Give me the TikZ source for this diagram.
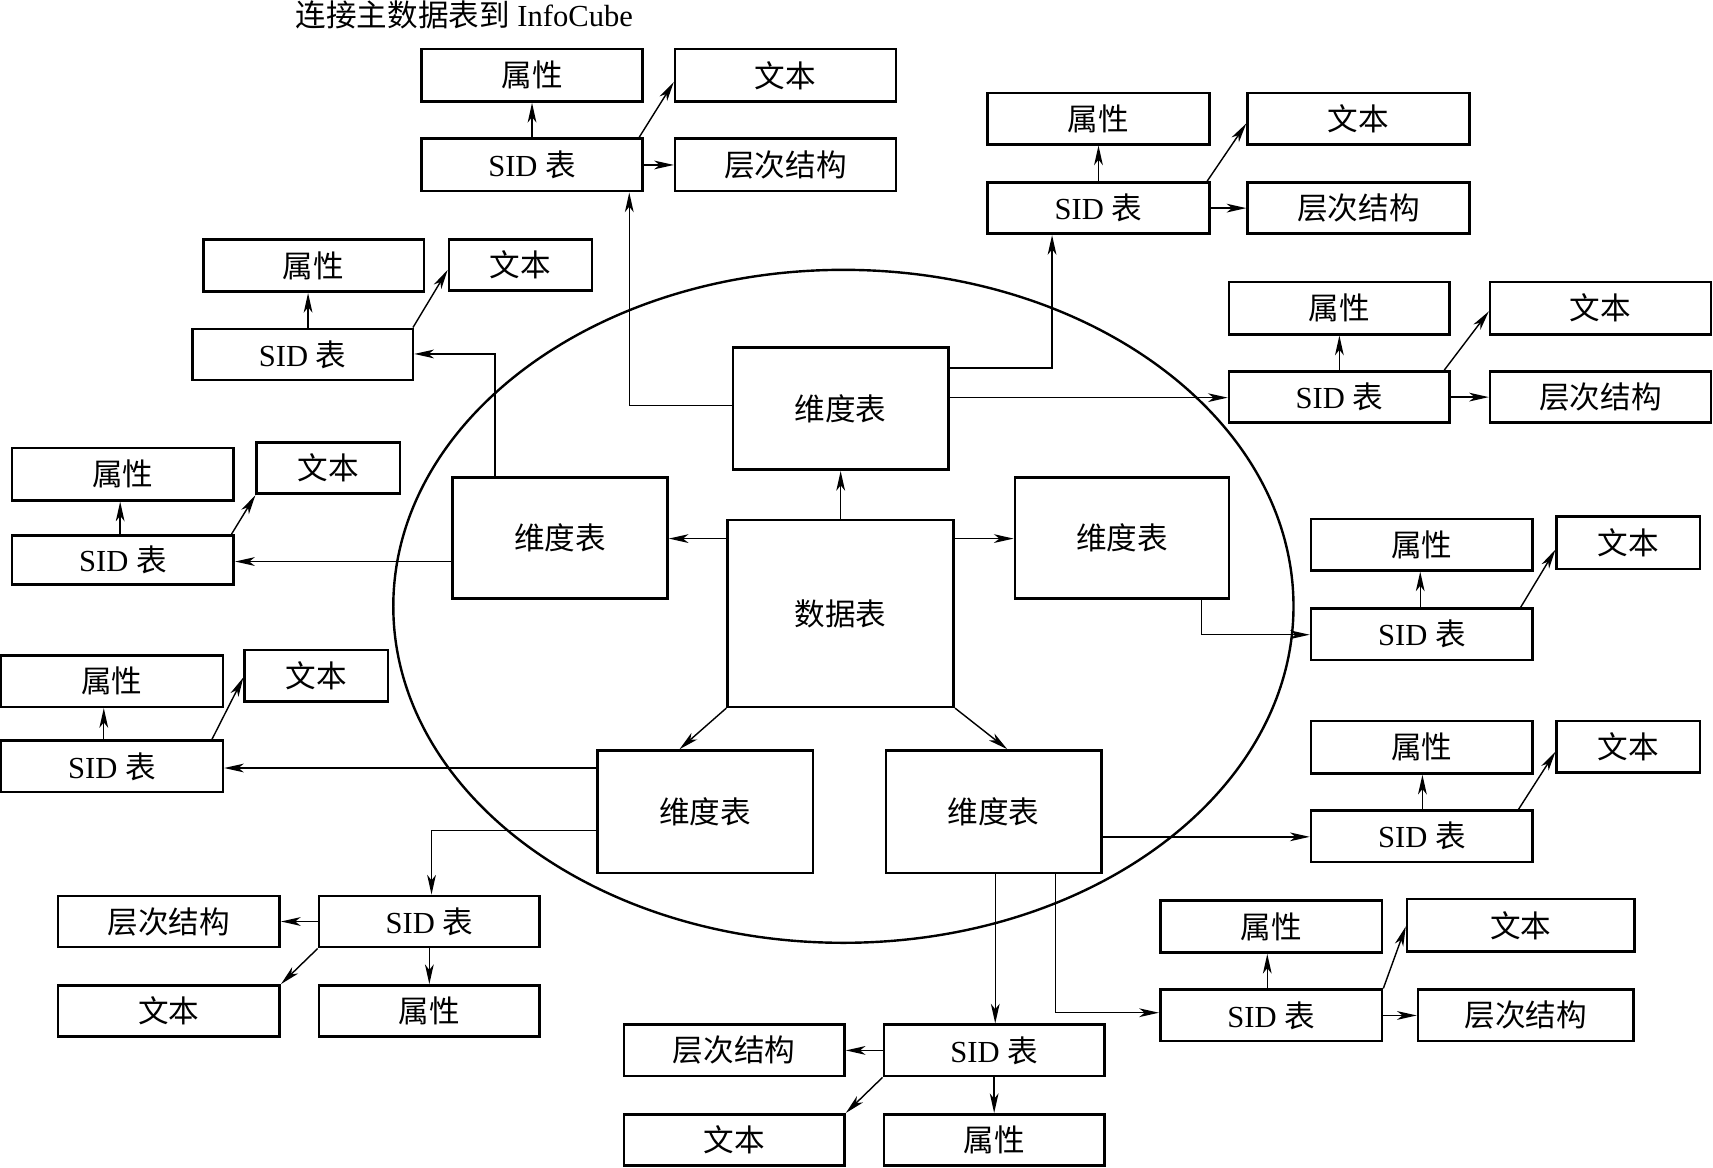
\documentclass[tikz,border=0pt]{standalone}
\usepackage{fontspec}
\setmainfont{Liberation Serif}
\newfontfamily\cjk{Noto Sans CJK SC}
\usetikzlibrary{arrows.meta}
\newcommand\zh[1]{{\cjk #1}}
\newcommand\mybox[6]{\node[box,minimum width={(#4-#2)*0.5pt},minimum height={(#5-#3)*0.5pt}] (#1) at ({(#2+#4)/2},{(#3+#5)/2}) {#6};}
\tikzset{
  box/.style={draw,line width=1.2pt,inner sep=0pt,rectangle,font=\fontsize{14}{16}\selectfont},
  conn/.style={line width=0.65pt,-{Stealth[length=9pt,width=4pt,inset=2.5pt]}},
}
\begin{document}
\begin{tikzpicture}[x=0.5pt,y=-0.5pt]
\useasboundingbox (0,0) rectangle (1568,1069);
\node[font=\fontsize{14}{16}\selectfont] (title) at (425,14) {\zh{连接主数据表到} InfoCube};
% ellipse
\draw[line width=1.1pt] (772,555) ellipse [x radius=206pt, y radius=154pt];
% center
\mybox{dsj}{666}{476}{873}{647}{\zh{数据表}}
\mybox{dtop}{671}{318}{868}{430}{\zh{维度表}}
\mybox{dl}{414}{437}{611}{548}{\zh{维度表}}
\mybox{dr}{929}{437}{1125}{548}{\zh{维度表}}
\mybox{dbl}{547}{687}{744}{799}{\zh{维度表}}
\mybox{dbr}{811}{687}{1008}{799}{\zh{维度表}}
% T1
\mybox{t1a}{386}{45}{588}{93}{\zh{属性}}
\mybox{t1t}{618}{45}{820}{93}{\zh{文本}}
\mybox{t1s}{386}{127}{588}{175}{SID \zh{表}}
\mybox{t1h}{618}{127}{820}{175}{\zh{层次结构}}
% T2
\mybox{t2a}{904}{85}{1107}{132}{\zh{属性}}
\mybox{t2t}{1142}{85}{1345}{132}{\zh{文本}}
\mybox{t2s}{904}{167}{1107}{214}{SID \zh{表}}
\mybox{t2h}{1142}{167}{1345}{214}{\zh{层次结构}}
% T3
\mybox{t3a}{1125}{258}{1327}{306}{\zh{属性}}
\mybox{t3t}{1364}{258}{1566}{306}{\zh{文本}}
\mybox{t3s}{1125}{340}{1327}{387}{SID \zh{表}}
\mybox{t3h}{1364}{340}{1566}{387}{\zh{层次结构}}
% L1
\mybox{l1a}{186}{219}{388}{267}{\zh{属性}}
\mybox{l1t}{411}{219}{542}{266}{\zh{文本}}
\mybox{l1s}{176}{301}{378}{348}{SID \zh{表}}
% L2
\mybox{l2a}{11}{410}{214}{458}{\zh{属性}}
\mybox{l2t}{235}{405}{366}{452}{\zh{文本}}
\mybox{l2s}{11}{490}{214}{535}{SID \zh{表}}
% L3
\mybox{l3a}{1}{600}{204}{647}{\zh{属性}}
\mybox{l3t}{224}{595}{355}{642}{\zh{文本}}
\mybox{l3s}{1}{678}{204}{725}{SID \zh{表}}
% R1
\mybox{r1a}{1200}{475}{1403}{522}{\zh{属性}}
\mybox{r1t}{1425}{473}{1556}{521}{\zh{文本}}
\mybox{r1s}{1200}{557}{1403}{604}{SID \zh{表}}
% R2
\mybox{r2a}{1200}{660}{1403}{708}{\zh{属性}}
\mybox{r2t}{1425}{660}{1556}{707}{\zh{文本}}
\mybox{r2s}{1200}{742}{1403}{789}{SID \zh{表}}
% B3
\mybox{b3a}{1062}{824}{1265}{872}{\zh{属性}}
\mybox{b3t}{1288}{823}{1496}{871}{\zh{文本}}
\mybox{b3s}{1062}{906}{1265}{953}{SID \zh{表}}
\mybox{b3h}{1298}{906}{1495}{953}{\zh{层次结构}}
% B1
\mybox{b1h}{53}{820}{256}{867}{\zh{层次结构}}
\mybox{b1s}{292}{820}{494}{867}{SID \zh{表}}
\mybox{b1t}{53}{902}{256}{949}{\zh{文本}}
\mybox{b1a}{292}{902}{494}{949}{\zh{属性}}
% B2
\mybox{b2h}{571}{938}{773}{985}{\zh{层次结构}}
\mybox{b2s}{809}{938}{1011}{985}{SID \zh{表}}
\mybox{b2t}{571}{1020}{773}{1067}{\zh{文本}}
\mybox{b2a}{809}{1020}{1011}{1067}{\zh{属性}}

% center connectors
\draw[conn] (dsj.north) -- (dtop.south);
\draw[conn] (dsj.west |- 0,493) -- (dl.east |- 0,493);
\draw[conn] (dsj.east |- 0,493) -- (dr.west |- 0,493);
\draw[conn] (dsj.south west) -- (dbl.north -| 622,0);
\draw[conn] (dsj.south east) -- (dbr.north -| 922,0);
% dimension to SID
\draw[conn] (dtop.west |- 0,371) -| (t1s.south -| 576,0);
\draw[conn] (dtop.east |- 0,337) -| (t2s.south -| 963,0);
\draw[conn] (dtop.east |- 0,364) -- (t3s.west |- 0,364);
\draw[conn] (dl.north -| 453,0) |- (l1s.east |- 0,324);
\draw[conn] (dl.west |- 0,514) -- (l2s.east |- 0,514);
\draw[conn] (dr.south -| 1100,0) |- (r1s.west |- 0,581);
\draw[conn] (dbl.west |- 0,703) -- (l3s.east |- 0,703);
\draw[conn] (dbl.west |- 0,760) -| (b1s.north -| 395,0);
\draw[conn] (dbr.south -| 911,0) -- (b2s.north -| 911,0);
\draw[conn] (dbr.south -| 966,0) |- (b3s.west |- 0,927);
\draw[conn] (dbr.east |- 0,766) -- (r2s.west |- 0,766);
% T clusters
\draw[conn] (t1s.north) -- (t1a.south);
\draw[conn] (t1s.east) -- (t1h.west);
\draw[conn] (t1s.north -| 585,0) -- (t1t.west |- 0,75);
\draw[conn] (t2s.north) -- (t2a.south);
\draw[conn] (t2s.east) -- (t2h.west);
\draw[conn] (t2s.north -| 1105,0) -- (t2t.west |- 0,113);
\draw[conn] (t3s.north) -- (t3a.south);
\draw[conn] (t3s.east) -- (t3h.west);
\draw[conn] (t3s.north -| 1322,0) -- (t3t.west |- 0,285);
% L clusters
\draw[conn] (l1s.north -| 282,0) -- (l1a.south -| 282,0);
\draw[conn] (l1s.north -| 378,0) -- (l1t.west |- 0,247);
\draw[conn] (l2s.north -| 110,0) -- (l2a.south -| 110,0);
\draw[conn] (l2s.north -| 212,0) -- (l2t.south west);
\draw[conn] (l3s.north -| 95,0) -- (l3a.south -| 95,0);
\draw[conn] (l3s.north -| 194,0) -- (l3t.west |- 0,620);
% R clusters
\draw[conn] (r1s.north -| 1300,0) -- (r1a.south -| 1300,0);
\draw[conn] (r1s.north -| 1392,0) -- (r1t.west |- 0,503);
\draw[conn] (r2s.north -| 1302,0) -- (r2a.south -| 1302,0);
\draw[conn] (r2s.north -| 1390,0) -- (r2t.west |- 0,688);
% B3
\draw[conn] (b3s.north -| 1160,0) -- (b3a.south -| 1160,0);
\draw[conn] (b3s.east) -- (b3h.west);
\draw[conn] (b3s.north east) -- (b3t.west |- 0,848);
% B1
\draw[conn] (b1s.west) -- (b1h.east);
\draw[conn] (b1s.south) -- (b1a.north);
\draw[conn] (b1s.south west) -- (b1t.north east);
% B2
\draw[conn] (b2s.west) -- (b2h.east);
\draw[conn] (b2s.south) -- (b2a.north);
\draw[conn] (b2s.south west) -- (b2t.north east);
\end{tikzpicture}
\end{document}
